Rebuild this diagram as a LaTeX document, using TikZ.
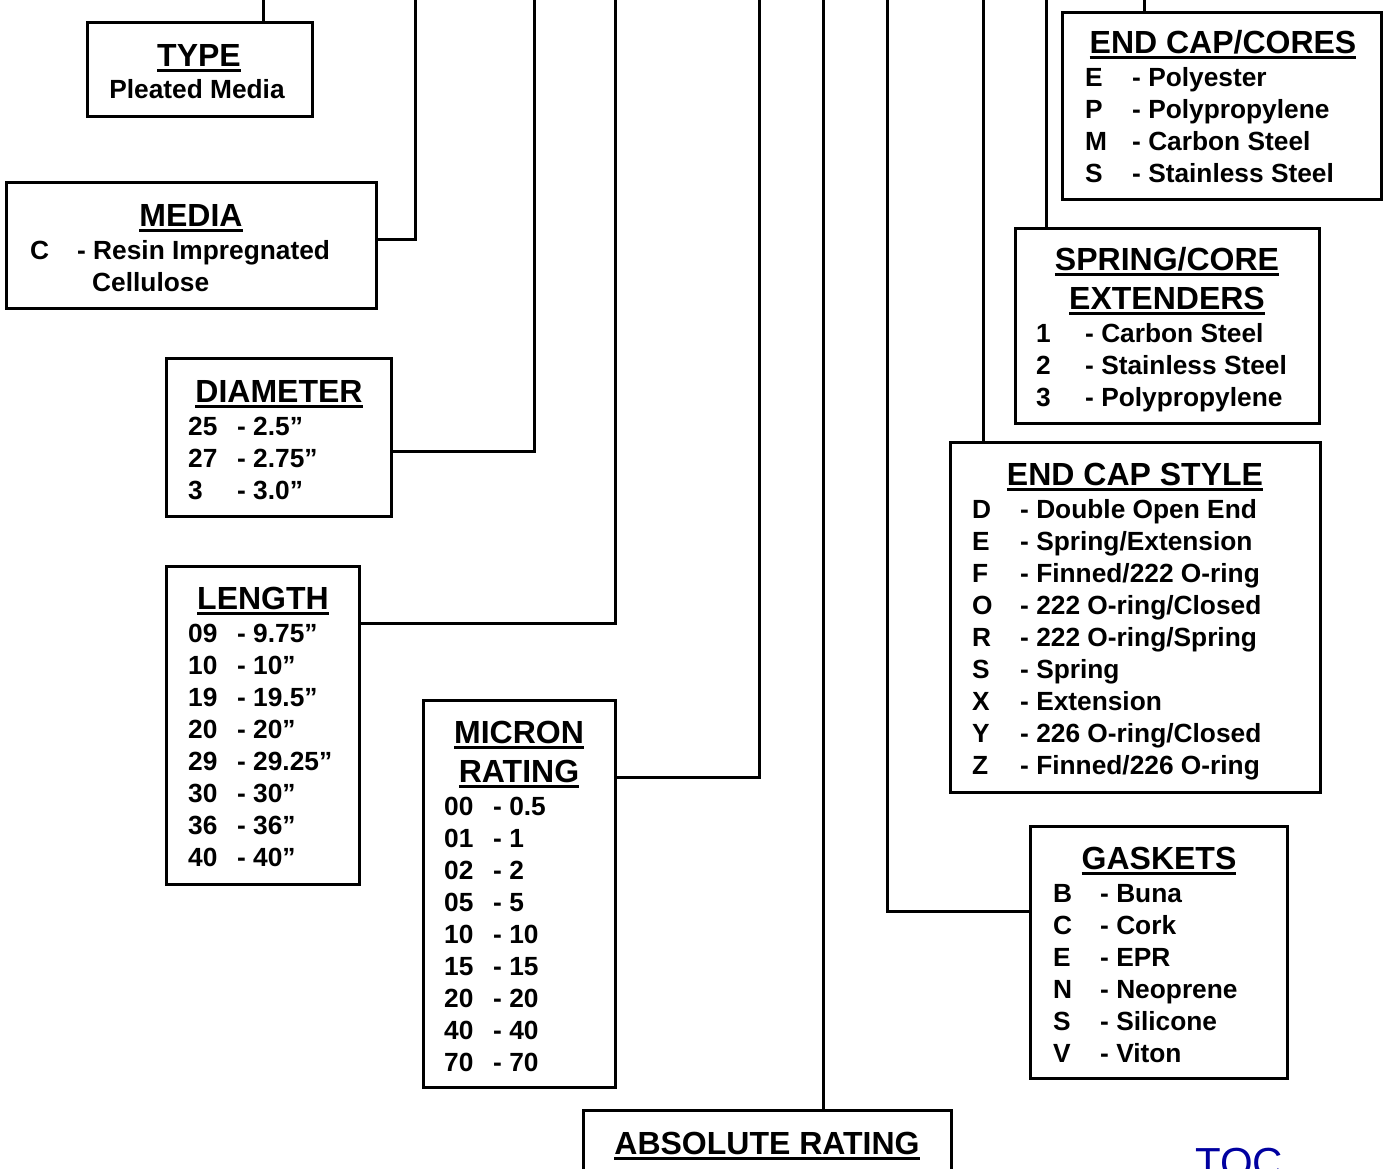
\documentclass[tikz,border=0pt]{standalone}
\usepackage{fontspec}
\setmainfont{Liberation Sans}
\definecolor{tocblue}{RGB}{0,0,160}

\newcommand{\boxtitle}[1]{\setbox0\hbox{#1}\rlap{\rule[-6pt]{\wd0}{3pt}}\box0}

\begin{document}
\begin{tikzpicture}[
    x=1pt, y=-1pt,
    box/.style={draw, line width=3pt, anchor=north west, inner sep=0pt, outer sep=0pt},
    link/.style={line width=3pt},
    title/.style={anchor=base, inner sep=0pt, font=\fontsize{32}{38}\selectfont\bfseries},
    item/.style={anchor=base west, inner sep=0pt, font=\fontsize{26.3}{32}\selectfont\bfseries},
    toc/.style={anchor=base west, inner sep=0pt, font=\fontsize{42}{48}\selectfont, text=tocblue}
]
\useasboundingbox (0,0) rectangle (1383,1168);
\clip (0,0) rectangle (1383,1168);

% Boxes
\node[box, minimum width=225pt, minimum height=94pt]  (type)     at (87,22)    {};
\node[box, minimum width=370pt, minimum height=126pt] (media)    at (6,182)    {};
\node[box, minimum width=225pt, minimum height=158pt] (diameter) at (166,358)  {};
\node[box, minimum width=193pt, minimum height=318pt] (length)   at (166,566)  {};
\node[box, minimum width=192pt, minimum height=387pt] (micron)   at (423,700)  {};
\node[box, minimum width=368pt, minimum height=100pt] (absolute) at (583,1110) {};
\node[box, minimum width=257pt, minimum height=252pt] (gaskets)  at (1030,826) {};
\node[box, minimum width=370pt, minimum height=350pt] (ecstyle)  at (950,442)  {};
\node[box, minimum width=304pt, minimum height=195pt] (spring)   at (1015,228) {};
\node[box, minimum width=319pt, minimum height=187pt] (cores)    at (1062,12)  {};

% Line ends at the top edge
\coordinate (tType)     at (263,0);
\coordinate (tMedia)    at (415,0);
\coordinate (tDiameter) at (534,0);
\coordinate (tLength)   at (615,0);
\coordinate (tMicron)   at (759,0);
\coordinate (tAbsolute) at (823,0);
\coordinate (tGaskets)  at (887,0);
\coordinate (tStyle)    at (983,0);
\coordinate (tSpring)   at (1046,0);
\coordinate (tCores)    at (1144,0);

% Connectors
\draw[link] (tType) -- (tType |- type.north);
\draw[link] ([yshift=-57pt]media.north east) -| (tMedia);
\draw[link] ([yshift=-93pt]diameter.north east) -| (tDiameter);
\draw[link] ([yshift=-57pt]length.north east) -| (tLength);
\draw[link] ([yshift=-77pt]micron.north east) -| (tMicron);
\draw[link] (tAbsolute) -- (tAbsolute |- absolute.north);
\draw[link] ([yshift=-85pt]gaskets.north west) -| (tGaskets);
\draw[link] (tStyle) -- (tStyle |- ecstyle.north);
\draw[link] (tSpring) -- (tSpring |- spring.north);
\draw[link] (tCores) -- (tCores |- cores.north);

% Type
\node[title] (typeT) at (199,66) {\boxtitle{TYPE}};
\node[item, anchor=base] (typeD) at (197,98) {Pleated Media};

% Media
\node[title] (mediaT) at (191,226) {\boxtitle{MEDIA}};
\node[item] (mediaC)  at (30,259) {C};
\node[item] (mediaD)  at (77,259) {- Resin Impregnated};
\node[item] (mediaD2) at (92,291) {Cellulose};

% Diameter
\node[title] (diameterT) at (279,402) {\boxtitle{DIAMETER}};
\foreach \c/\d [count=\i from 0] in {25/2.5”, 27/2.75”, 3/3.0”} {
    \node[item] (diameterC\i) at (188,{435+32*\i}) {\c};
    \node[item] (diameterD\i) at (237,{435+32*\i}) {- \d};
}

% Length
\node[title] (lengthT) at (263,609) {\boxtitle{LENGTH}};
\foreach \c/\d [count=\i from 0] in {09/9.75”, 10/10”, 19/19.5”, 20/20”, 29/29.25”, 30/30”, 36/36”, 40/40”} {
    \node[item] (lengthC\i) at (188,{642+32*\i}) {\c};
    \node[item] (lengthD\i) at (237,{642+32*\i}) {- \d};
}

% Micron rating
\node[title] (micronT1) at (519,743) {\boxtitle{MICRON}};
\node[title] (micronT2) at (519,782) {\boxtitle{RATING}};
\foreach \c/\d [count=\i from 0] in {00/0.5, 01/1, 02/2, 05/5, 10/10, 15/15, 20/20, 40/40, 70/70} {
    \node[item] (micronC\i) at (444,{815+32*\i}) {\c};
    \node[item] (micronD\i) at (493,{815+32*\i}) {- \d};
}

% Absolute rating
\node[title] (absoluteT) at (767,1154) {\boxtitle{ABSOLUTE RATING}};

% Gaskets
\node[title] (gasketsT) at (1159,869) {\boxtitle{GASKETS}};
\foreach \c/\d [count=\i from 0] in {B/Buna, C/Cork, E/EPR, N/Neoprene, S/Silicone, V/Viton} {
    \node[item] (gasketsC\i) at (1053,{902+32*\i}) {\c};
    \node[item] (gasketsD\i) at (1100,{902+32*\i}) {- \d};
}

% End cap style
\node[title] (ecstyleT) at (1135,485) {\boxtitle{END CAP STYLE}};
\foreach \c/\d [count=\i from 0] in {D/Double Open End, E/{Spring/Extension}, F/{Finned/222 O-ring},
        O/{222 O-ring/Closed}, R/{222 O-ring/Spring}, S/Spring, X/Extension,
        Y/{226 O-ring/Closed}, Z/{Finned/226 O-ring}} {
    \node[item] (ecstyleC\i) at (972,{518+32*\i}) {\c};
    \node[item] (ecstyleD\i) at (1020,{518+32*\i}) {- \d};
}

% Spring/core extenders
\node[title] (springT1) at (1167,270) {\boxtitle{SPRING/CORE}};
\node[title] (springT2) at (1167,309) {\boxtitle{EXTENDERS}};
\foreach \c/\d [count=\i from 0] in {1/Carbon Steel, 2/Stainless Steel, 3/Polypropylene} {
    \node[item] (springC\i) at (1036,{342+32*\i}) {\c};
    \node[item] (springD\i) at (1085,{342+32*\i}) {- \d};
}

% End cap/cores
\node[title] (coresT) at (1223,53) {\boxtitle{END CAP/CORES}};
\foreach \c/\d [count=\i from 0] in {E/Polyester, P/Polypropylene, M/Carbon Steel, S/Stainless Steel} {
    \node[item] (coresC\i) at (1085,{86+32*\i}) {\c};
    \node[item] (coresD\i) at (1132,{86+32*\i}) {- \d};
}

% Link back
\node[toc] (toc) at (1195,1177) {TOC};

\end{tikzpicture}
\end{document}
